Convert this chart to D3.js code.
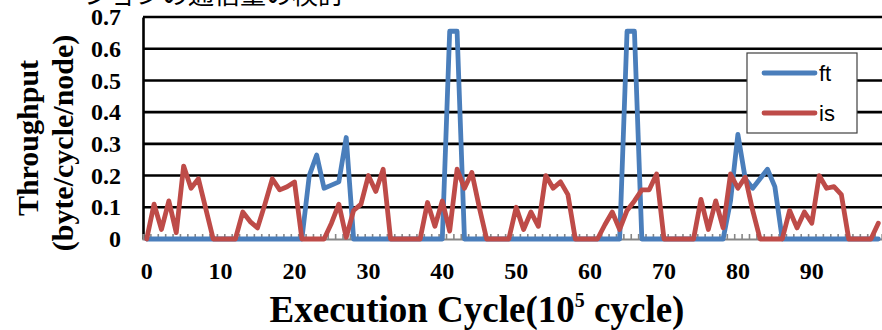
<!DOCTYPE html>
<html>
<head>
<meta charset="utf-8">
<script src="https://cdn.jsdelivr.net/npm/d3@7"></script>
<style>
  html, body { margin: 0; padding: 0; background: #fff; }
  svg { display: block; }
</style>
</head>
<body>
<svg id="chart" width="882" height="330"></svg>
<script>
// Execution cycle categories (units of 10^5 cycles)
const cycles = d3.range(0, 100);
const xTickLabels = [0, 10, 20, 30, 40, 50, 60, 70, 80, 90];
const yTickValues = [0, 0.1, 0.2, 0.3, 0.4, 0.5, 0.6, 0.7];
const seriesNames = ["ft", "is"];

// Throughput per cycle, ft benchmark
const ft = [
  0, 0, 0, 0, 0, 0, 0, 0, 0, 0,
  0, 0, 0, 0, 0, 0, 0, 0, 0, 0,
  0, 0, 0.2, 0.265, 0.16, 0.17, 0.18, 0.32, 0, 0,
  0, 0, 0, 0, 0, 0, 0, 0, 0, 0,
  0, 0.655, 0.655, 0, 0, 0, 0, 0, 0, 0,
  0, 0, 0, 0, 0, 0, 0, 0, 0, 0,
  0, 0, 0, 0, 0, 0.655, 0.655, 0, 0, 0,
  0, 0, 0, 0, 0, 0, 0, 0, 0, 0.12,
  0.33, 0.19, 0.16, 0.19, 0.22, 0.165, 0, 0, 0, 0,
  0, 0, 0, 0, 0, 0, 0, 0, 0, 0
];

// Throughput per cycle, is benchmark
const is = [
  0, 0.11, 0.03, 0.12, 0.02, 0.23, 0.16, 0.19, 0.095, 0,
  0, 0, 0, 0.085, 0.055, 0.035, 0.11, 0.19, 0.155, 0.165,
  0.18, 0, 0, 0, 0, 0.05, 0.11, 0.005, 0.09, 0.11,
  0.2, 0.15, 0.22, 0, 0, 0, 0, 0, 0.115, 0.04,
  0.12, 0.025, 0.22, 0.16, 0.21, 0.1, 0, 0, 0, 0,
  0.1, 0.03, 0.085, 0.04, 0.2, 0.16, 0.18, 0.14, 0, 0,
  0, 0, 0.045, 0.085, 0.03, 0.09, 0.12, 0.155, 0.155, 0.205,
  0, 0, 0, 0, 0, 0.125, 0.03, 0.12, 0.035, 0.205,
  0.16, 0.195, 0.09, 0, 0, 0, 0, 0.09, 0.035, 0.085,
  0.05, 0.2, 0.16, 0.165, 0.14, 0, 0, 0, 0, 0.05
];

const colors = { ft: "#4a7ebb", is: "#be4b48" };

const svg = d3.select("#chart");
const plotLeft = 143, plotRight = 882, plotTop = 17, plotBottom = 239;

const x = d3.scaleBand().domain(cycles).range([plotLeft, plotRight]).paddingInner(0).paddingOuter(0);
const xc = d => x(d) + x.bandwidth() / 2;
const y = d3.scaleLinear().domain([0, 0.7]).range([plotBottom, plotTop]);

// Title (runs off the top edge of the page)
svg.append("text")
  .attr("x", 84).attr("y", 4)
  .attr("font-family", "'Noto Sans CJK JP', sans-serif")
  .attr("font-size", 26)
  .attr("fill", "#000")
  .text("ションの通信量の検討");

// Horizontal gridlines
svg.append("g")
  .selectAll("line")
  .data(yTickValues.filter(v => v > 0))
  .join("line")
  .attr("x1", plotLeft).attr("x2", plotRight)
  .attr("y1", d => y(d)).attr("y2", d => y(d))
  .attr("stroke", "#000").attr("stroke-width", 2.6);

// Y axis
const yAxis = d3.axisLeft(y)
  .tickValues(yTickValues)
  .tickSize(0)
  .tickPadding(22)
  .tickFormat(d => d === 0 ? "0" : d3.format(".1f")(d));
const gy = svg.append("g").attr("transform", `translate(${plotLeft},0)`).call(yAxis);
gy.select(".domain").attr("stroke", "#000").attr("stroke-width", 2.6);
gy.selectAll("text")
  .attr("font-family", "'Liberation Serif', serif")
  .attr("font-weight", "bold")
  .attr("font-size", 24)
  .attr("fill", "#000");

// X axis: category boundary ticks pointing inward
const xb = d3.scaleLinear().domain([0, cycles.length]).range([plotLeft, plotRight]);
const gxTicks = svg.append("g").attr("transform", `translate(0,${plotBottom})`)
  .call(d3.axisBottom(xb).tickValues(d3.range(0, cycles.length + 1)).tickSize(-5).tickFormat(""));
gxTicks.select(".domain").attr("stroke", "#868686").attr("stroke-width", 2);
gxTicks.selectAll(".tick line").attr("stroke", "#868686").attr("stroke-width", 1.6);

// X tick labels
const gx = svg.append("g").attr("transform", `translate(0,${plotBottom})`)
  .call(d3.axisBottom(x).tickValues(xTickLabels).tickSize(0).tickPadding(23));
gx.select(".domain").remove();
gx.selectAll("text")
  .attr("font-family", "'Liberation Serif', serif")
  .attr("font-weight", "bold")
  .attr("font-size", 24)
  .attr("fill", "#000");

// Series lines
const line = d3.line().x((d, i) => xc(cycles[i])).y(d => y(d));
const seriesData = { ft, is };
svg.append("g")
  .selectAll("path")
  .data(seriesNames)
  .join("path")
  .attr("d", n => line(seriesData[n]))
  .attr("fill", "none")
  .attr("stroke", n => colors[n])
  .attr("stroke-width", 4.8)
  .attr("stroke-linejoin", "round")
  .attr("stroke-linecap", "round");

// Legend
const lg = svg.append("g");
lg.append("rect")
  .attr("x", 747).attr("y", 53).attr("width", 110).attr("height", 80)
  .attr("fill", "#fff").attr("stroke", "#404040").attr("stroke-width", 1.2);
const items = lg.selectAll("g.item").data(seriesNames).join("g")
  .attr("class", "item")
  .attr("transform", (d, i) => `translate(0,${73 + i * 40})`);
items.append("line")
  .attr("x1", 764).attr("x2", 815).attr("y1", 0).attr("y2", 0)
  .attr("stroke", d => colors[d]).attr("stroke-width", 4.8)
  .attr("stroke-linecap", "round");
items.append("text")
  .attr("x", 819).attr("y", 0).attr("dy", "0.35em")
  .attr("font-family", "'Liberation Sans', sans-serif")
  .attr("font-size", 22)
  .attr("fill", "#000")
  .text(d => d);

// Axis titles
const yTitle = svg.append("g")
  .attr("font-family", "'Liberation Serif', serif")
  .attr("font-weight", "bold")
  .attr("font-size", 30)
  .attr("fill", "#000")
  .attr("text-anchor", "middle");
yTitle.append("text")
  .attr("transform", "translate(27,138) rotate(-90)")
  .attr("dy", "0.35em")
  .text("Throughput");
yTitle.append("text")
  .attr("transform", "translate(62,143) rotate(-90)")
  .attr("dy", "0.35em")
  .text("(byte/cycle/node)");

const xTitle = svg.append("text")
  .attr("x", 477).attr("y", 322)
  .attr("text-anchor", "middle")
  .attr("font-family", "'Liberation Serif', serif")
  .attr("font-weight", "bold")
  .attr("font-size", 37)
  .attr("fill", "#000");
xTitle.append("tspan").text("Execution Cycle(10");
xTitle.append("tspan").attr("font-size", 20).attr("dy", -15).text("5");
xTitle.append("tspan").attr("dy", 15).text(" cycle)");
</script>
</body>
</html>
